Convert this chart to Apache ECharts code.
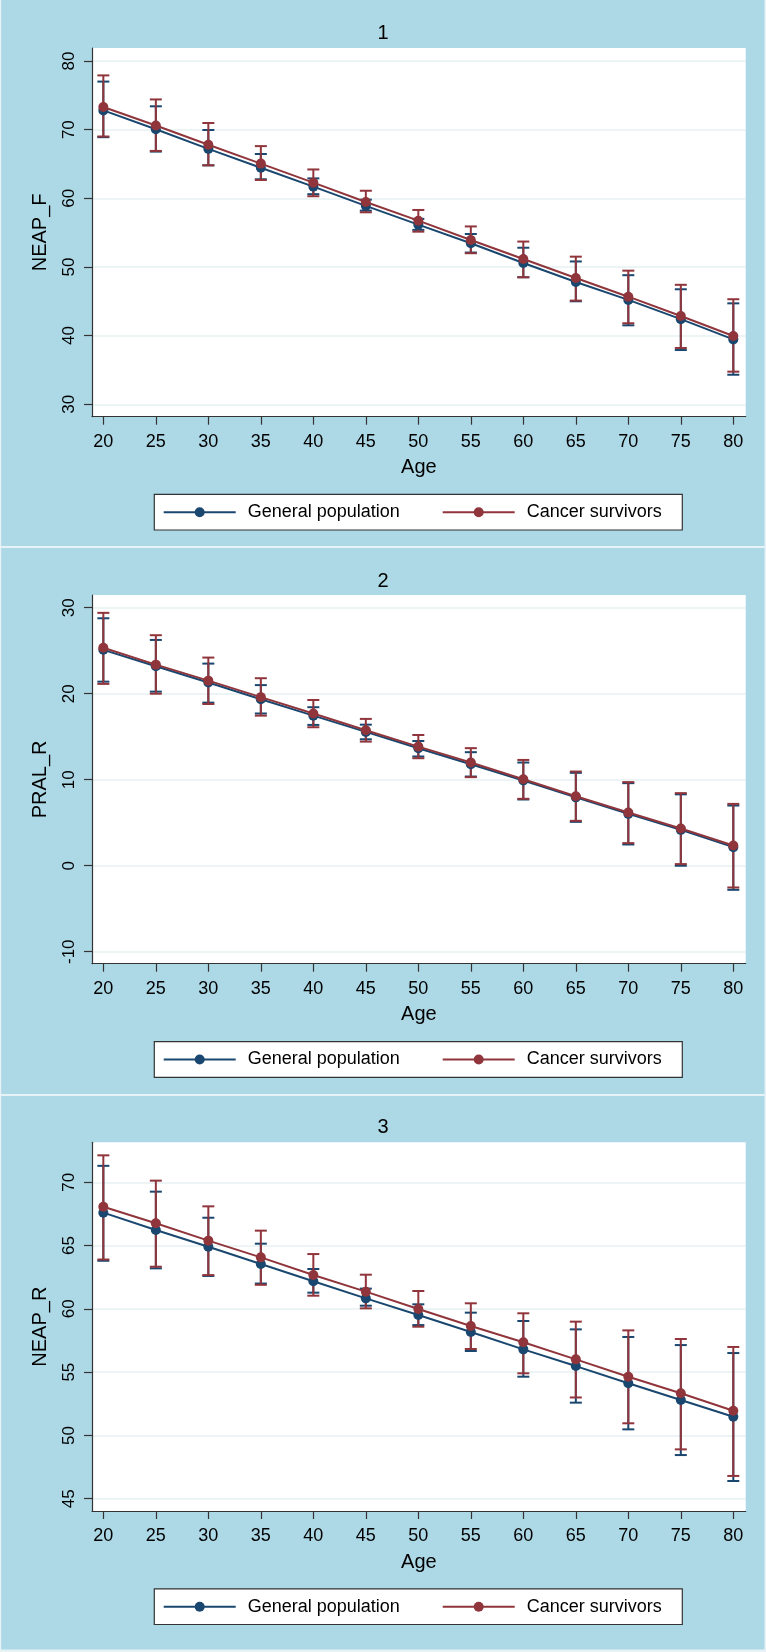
<!DOCTYPE html>
<html>
<head>
<meta charset="utf-8">
<script src="https://cdn.jsdelivr.net/npm/echarts@6/dist/echarts.min.js"></script>
<style>html,body{margin:0;padding:0;background:#fff}#c{width:766px;height:1652px}</style>
</head>
<body>
<div id="c"></div>
<script>
// ---------- data ----------
const ages = [20, 25, 30, 35, 40, 45, 50, 55, 60, 65, 70, 75, 80];
const seriesNames = ['General population', 'Cancer survivors'];
const panelTitles = ['1', '2', '3'];
const yAxisTitles = ['NEAP_F', 'PRAL_R', 'NEAP_R'];
const xAxisTitle = 'Age';
const xTicks = [20, 25, 30, 35, 40, 45, 50, 55, 60, 65, 70, 75, 80];
const yTicks1 = [30, 40, 50, 60, 70, 80];
const yTicks2 = [-10, 0, 10, 20, 30];
const yTicks3 = [45, 50, 55, 60, 65, 70];

// Panel 1: NEAP_F
const neapF_gen    = [72.8, 70.05, 67.2, 64.45, 61.7, 58.9, 56.16, 53.45, 50.58, 47.8, 45.2, 42.4, 39.45];
const neapF_gen_hi = [77.0, 73.4, 69.95, 66.45, 62.9, 59.8, 57.0, 54.8, 52.8, 50.8, 48.8, 46.75, 44.7];
const neapF_gen_lo = [68.9, 66.8, 64.8, 62.77, 60.6, 58.2, 55.4, 52.1, 48.5, 45.0, 41.5, 37.9, 34.3];
const neapF_cs     = [73.3, 70.6, 67.8, 65.05, 62.28, 59.46, 56.74, 53.93, 51.16, 48.4, 45.67, 42.86, 39.94];
const neapF_cs_hi  = [77.9, 74.4, 70.97, 67.6, 64.2, 61.1, 58.3, 55.9, 53.7, 51.5, 49.46, 47.4, 45.3];
const neapF_cs_lo  = [69.0, 66.9, 64.8, 62.67, 60.3, 57.96, 55.14, 52.0, 48.5, 45.1, 41.8, 38.2, 34.75];

// Panel 2: PRAL_R
const pral_gen    = [25.1, 23.2, 21.3, 19.36, 17.45, 15.56, 13.66, 11.8, 9.9, 7.95, 6.03, 4.17, 2.16];
const pral_gen_hi = [28.77, 26.25, 23.5, 21.0, 18.43, 16.4, 14.5, 13.2, 12.0, 10.8, 9.6, 8.3, 7.0];
const pral_gen_lo = [21.4, 20.24, 18.96, 17.7, 16.37, 14.7, 12.7, 10.37, 7.7, 5.1, 2.47, 0.0, -2.8];
const pral_cs     = [25.35, 23.38, 21.52, 19.6, 17.7, 15.75, 13.85, 12.0, 10.06, 8.08, 6.18, 4.33, 2.35];
const pral_cs_hi  = [29.4, 26.8, 24.2, 21.8, 19.27, 17.07, 15.2, 13.67, 12.3, 10.95, 9.72, 8.44, 7.19];
const pral_cs_lo  = [21.14, 20.0, 18.8, 17.45, 16.1, 14.43, 12.5, 10.3, 7.78, 5.22, 2.63, 0.19, -2.53];

// Panel 3: NEAP_R
const neapR_gen    = [67.6, 66.23, 64.91, 63.54, 62.18, 60.83, 59.51, 58.17, 56.8, 55.48, 54.12, 52.8, 51.48];
const neapR_gen_hi = [71.3, 69.26, 67.2, 65.15, 63.15, 61.6, 60.36, 59.7, 59.04, 58.38, 57.78, 57.14, 56.51];
const neapR_gen_lo = [63.8, 63.2, 62.6, 62.0, 61.28, 60.25, 58.72, 56.67, 54.64, 52.59, 50.48, 48.45, 46.4];
const neapR_cs     = [68.07, 66.76, 65.39, 64.07, 62.68, 61.36, 59.99, 58.65, 57.36, 56.01, 54.64, 53.33, 51.95];
const neapR_cs_hi  = [72.13, 70.13, 68.1, 66.18, 64.33, 62.7, 61.41, 60.44, 59.65, 58.99, 58.3, 57.62, 56.99];
const neapR_cs_lo  = [63.9, 63.33, 62.67, 61.9, 61.04, 60.04, 58.59, 56.83, 54.91, 53.0, 50.96, 48.9, 46.8];

// ---------- styling / layout ----------
const FONT = '"Liberation Sans", Arial, sans-serif';
const BLUE = '#1a476f';
const RED = '#90353b';
const PANEL_BG = '#add8e6';
const SEP = '#e6f2f6';
const GRIDLINE = '#e6f0f2';
const AXIS = '#333333';

const panels = [
  { top: 48,     yMin: 28.19, yMax: 81.89, ticks: yTicks1, gen: neapF_gen, genLo: neapF_gen_lo, genHi: neapF_gen_hi, cs: neapF_cs, csLo: neapF_cs_lo, csHi: neapF_cs_hi, titleY: 33,     legendY: 512.2 },
  { top: 595,    yMin: -11.39, yMax: 31.475, ticks: yTicks2, gen: pral_gen, genLo: pral_gen_lo, genHi: pral_gen_hi, cs: pral_cs, csLo: pral_cs_lo, csHi: pral_cs_hi, titleY: 581.7,  legendY: 1059.5 },
  { top: 1142.3, yMin: 44.03, yMax: 73.16, ticks: yTicks3, gen: neapR_gen, genLo: neapR_gen_lo, genHi: neapR_gen_hi, cs: neapR_cs, csLo: neapR_cs_lo, csHi: neapR_cs_hi, titleY: 1127.7, legendY: 1606.7 }
];
const GRID_LEFT = 92, GRID_RIGHT_EDGE = 745.7, GRID_H = 368.7;

function errRender(color) {
  return function (params, api) {
    const x = api.value(0);
    const pl = api.coord([x, api.value(1)]);
    const ph = api.coord([x, api.value(2)]);
    const hw = 6;
    const st = { stroke: color, lineWidth: 2 };
    return {
      type: 'group',
      children: [
        { type: 'line', shape: { x1: ph[0], y1: ph[1], x2: pl[0], y2: pl[1] }, style: st },
        { type: 'line', shape: { x1: ph[0] - hw, y1: ph[1], x2: ph[0] + hw, y2: ph[1] }, style: st },
        { type: 'line', shape: { x1: pl[0] - hw, y1: pl[1], x2: pl[0] + hw, y2: pl[1] }, style: st }
      ]
    };
  };
}

const grid = [], xAxis = [], yAxis = [], series = [], legend = [], graphic = [];

panels.forEach((p, i) => {
  grid.push({
    left: GRID_LEFT, top: p.top, width: GRID_RIGHT_EDGE - GRID_LEFT, height: GRID_H,
    show: true, backgroundColor: '#ffffff', borderWidth: 0, containLabel: false
  });
  xAxis.push({
    type: 'value', gridIndex: i, min: 18.92, max: 81.18,
    name: xAxisTitle, nameLocation: 'middle', nameGap: 41,
    nameTextStyle: { fontFamily: FONT, fontSize: 20, color: '#000' },
    axisLine: { show: true, onZero: false, lineStyle: { color: AXIS, width: 1.2 } },
    axisTick: { show: true, length: 8, customValues: xTicks, lineStyle: { color: AXIS, width: 1.2 } },
    axisLabel: { customValues: xTicks, margin: 16, fontFamily: FONT, fontSize: 18, color: '#000' },
    splitLine: { show: false }
  });
  yAxis.push({
    type: 'value', gridIndex: i, min: p.yMin, max: p.yMax,
    name: yAxisTitles[i], nameLocation: 'middle', nameGap: 42,
    nameTextStyle: { fontFamily: FONT, fontSize: 20, color: '#000' },
    axisLine: { show: true, onZero: false, lineStyle: { color: AXIS, width: 1.2 } },
    axisTick: { show: true, length: 8, customValues: p.ticks, lineStyle: { color: AXIS, width: 1.2 } },
    axisLabel: { customValues: p.ticks, rotate: 90, margin: 14, fontFamily: FONT, fontSize: 17, color: '#000' },
    splitLine: { show: true, lineStyle: { color: GRIDLINE, width: 1.5 } }
  });

  const mk = (arr) => ages.map((a, k) => [a, arr[k]]);
  const mkErr = (lo, hi) => ages.map((a, k) => [a, lo[k], hi[k]]);

  series.push({
    type: 'custom', name: 'gen_ci_' + i, xAxisIndex: i, yAxisIndex: i,
    renderItem: errRender(BLUE), data: mkErr(p.genLo, p.genHi),
    encode: { x: 0, y: [1, 2] }, z: 2, silent: true
  });
  series.push({
    type: 'custom', name: 'cs_ci_' + i, xAxisIndex: i, yAxisIndex: i,
    renderItem: errRender(RED), data: mkErr(p.csLo, p.csHi),
    encode: { x: 0, y: [1, 2] }, z: 3, silent: true
  });
  series.push({
    type: 'line', name: seriesNames[0], xAxisIndex: i, yAxisIndex: i,
    data: mk(p.gen), symbol: 'circle', symbolSize: 10, showAllSymbol: true,
    lineStyle: { color: BLUE, width: 2 }, itemStyle: { color: BLUE }, z: 4, animation: false
  });
  series.push({
    type: 'line', name: seriesNames[1], xAxisIndex: i, yAxisIndex: i,
    data: mk(p.cs), symbol: 'circle', symbolSize: 10, showAllSymbol: true,
    lineStyle: { color: RED, width: 2 }, itemStyle: { color: RED }, z: 5, animation: false
  });

  // legend box
  graphic.push({
    type: 'rect', shape: { x: 154.3, y: p.legendY - 17.8, width: 528, height: 35.6 },
    style: { fill: '#ffffff', stroke: AXIS, lineWidth: 1.2 }, z: 1
  });
  const legCommon = {
    orient: 'horizontal', padding: 0, itemWidth: 72, itemHeight: 12.5,
    top: p.legendY - 9, selectedMode: false, z: 10,
    textStyle: { fontFamily: FONT, fontSize: 18, color: '#000', padding: [0, 0, 0, 7] }
  };
  legend.push(Object.assign({}, legCommon, { left: 162.7, data: [seriesNames[0]] }));
  legend.push(Object.assign({}, legCommon, { left: 441.7, data: [seriesNames[1]] }));

  // panel title
  graphic.push({
    type: 'text', x: 383, y: p.titleY,
    style: { text: panelTitles[i], fontFamily: FONT, fontSize: 20, fill: '#000', textAlign: 'center', textVerticalAlign: 'middle' },
    z: 1
  });
});

// panel separators / frame
[[0, 546, 766, 2], [0, 1094, 766, 2], [0, 1649.5, 766, 2.5], [0, 0, 1.2, 1652], [764.5, 0, 1.5, 1652]].forEach(r => {
  graphic.push({ type: 'rect', shape: { x: r[0], y: r[1], width: r[2], height: r[3] }, style: { fill: SEP }, z: 1 });
});

const chart = echarts.init(document.getElementById('c'), null, { renderer: 'canvas' });
chart.setOption({
  backgroundColor: PANEL_BG,
  animation: false,
  textStyle: { fontFamily: FONT },
  grid, xAxis, yAxis, series, legend, graphic
});
</script>
</body>
</html>
